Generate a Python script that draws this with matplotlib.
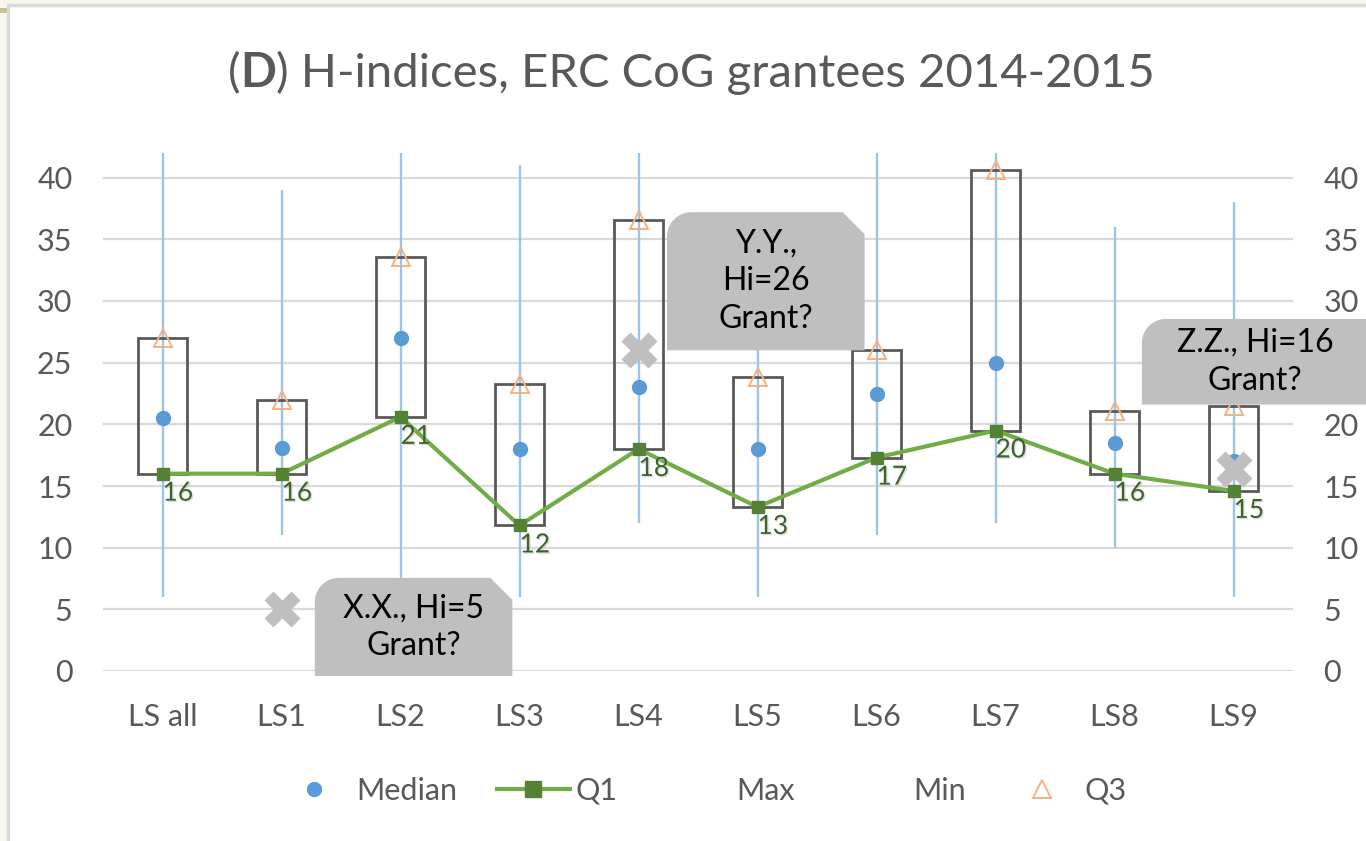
import matplotlib
matplotlib.use("Agg")
import matplotlib.pyplot as plt
import numpy as np
from matplotlib.lines import Line2D
from matplotlib.patches import Rectangle, PathPatch
from matplotlib.path import Path
import matplotlib.patheffects as pe

plt.rcParams['font.family'] = ['Lato', 'DejaVu Sans']

# Data
categories = ["LS all", "LS1", "LS2", "LS3", "LS4", "LS5", "LS6", "LS7", "LS8", "LS9"]
h_max = [45, 39, 45, 41, 45, 30, 45, 45, 36, 38]
h_min = [6, 11, 3, 6, 12, 6, 11, 12, 10, 6]
q1 = [16, 16, 20.6, 11.8, 18, 13.3, 17.3, 19.5, 16, 14.6]
q3 = [27, 22, 33.6, 23.3, 36.6, 23.8, 26, 40.6, 21.1, 21.5]
median = [20.5, 18.1, 27, 18, 23, 18, 22.5, 25, 18.5, 17]

# individual grantees marked with a cross
people = ["X.X.", "Y.Y.", "Z.Z."]
people_cat = [1, 4, 9]
people_hi = [5, 26, 16.4]
people_text = ["X.X., Hi=5\nGrant?", "Y.Y.,\nHi=26\nGrant?", "Z.Z., Hi=16\nGrant?"]

yticks = np.arange(0, 41, 5)
# the right-hand "25" sits under the Z.Z. callout
right_labels = ["" if t == 25 else str(t) for t in yticks]

GREY_TXT = "#595959"
W, H = 1366, 841

fig = plt.figure(figsize=(W / 100, H / 100), dpi=100, facecolor="#F8F6EE")

# white chart panel inside the window
fig.add_artist(Rectangle((8 / W, -0.01), 1.0, 1 - 5 / H + 0.01, transform=fig.transFigure,
                         facecolor="white", edgecolor="#D9D9D9", lw=2.5, zorder=-5))
fig.add_artist(Rectangle((0, 1 - 13 / H), 7 / W, 5 / H, transform=fig.transFigure,
                         facecolor="#CDBF94", edgecolor="none", zorder=-5))

ax = fig.add_axes([103 / W, 1 - 671 / H, 1190 / W, 518 / H])
ax.set_facecolor("none")
x = np.arange(len(categories))
ax.set_xlim(-0.5, len(categories) - 0.5)
ax.set_ylim(0, 42)

# grid and ticks
ax.set_yticks(yticks)
ax.yaxis.grid(True, color="#D9D9D9", lw=1.6, zorder=0)
ax.set_axisbelow(True)
for s in ax.spines.values():
    s.set_visible(False)
ax.set_xticks(x)
ax.set_xticklabels(categories)
ax.tick_params(axis="x", length=0, pad=23, labelsize=22, labelcolor=GREY_TXT)
ax.tick_params(axis="y", length=0, pad=22, labelsize=22, labelcolor=GREY_TXT)

ax_r = ax.twinx()
ax_r.patch.set_visible(False)
ax_r.set_ylim(ax.get_ylim())
ax_r.set_yticks(yticks)
ax_r.set_yticklabels(right_labels)
ax_r.tick_params(axis="y", length=0, pad=22, labelsize=22, labelcolor=GREY_TXT)
for s in ax_r.spines.values():
    s.set_visible(False)

# max-min lines
ax.vlines(x, h_min, h_max, color="#9DC3E6", lw=1.7, zorder=1)

# Q1-Q3 boxes
ax.bar(x, np.array(q3) - np.array(q1), bottom=q1, width=0.41, fill=False,
       edgecolor=GREY_TXT, lw=2.0, zorder=2)

# series
ax.plot(x, q1, color="#70AD47", lw=3, marker="s", ms=9, mfc="#548235",
        mec="#548235", zorder=3)
ax.plot(x, median, ls="none", marker="o", ms=10, color="#5B9BD5", zorder=3)
ax.plot(x, q3, ls="none", marker="^", ms=13, mfc="none", mec="#F4B183",
        mew=1.4, zorder=4)

for xi, v in zip(x, q1):
    ax.annotate(f"{v:.0f}", (xi, v), xytext=(0, -5), textcoords="offset points",
                ha="left", va="top", fontsize=19, color="#3B6428", zorder=5,
                path_effects=[pe.withSimplePatchShadow(offset=(1, -1), shadow_rgbFace="#bbbbbb",
                                                       alpha=0.5)])

# crosses
ax.plot(people_cat, people_hi, ls="none", marker="X", ms=26, color="#BFBFBF",
        mec="none", zorder=6, clip_on=False)

# callout boxes: (x0, x1, y0, y1, text centre x)
callouts = [(1.28, 2.94, -0.4, 7.55, 2.11),
            (4.24, 5.90, 26.0, 37.2, 5.07),
            (8.23, 10.3, 21.6, 28.55, 9.18)]

p0 = ax.transData.transform((0, 0))
p1 = ax.transData.transform((1, 1))
sx, sy = p1[0] - p0[0], p1[1] - p0[1]


def callout_path(x0, x1, y0, y1, r=24, snip=22):
    rx, ry = r / sx, r / sy
    nx, ny = snip / sx, snip / sy
    verts = [(x0, y0), (x0, y1 - ry)]
    for t in np.linspace(np.pi, np.pi / 2, 12):
        verts.append((x0 + rx + rx * np.cos(t), y1 - ry + ry * np.sin(t)))
    verts += [(x1 - nx, y1), (x1, y1 - ny), (x1, y0), (x0, y0)]
    codes = [Path.MOVETO] + [Path.LINETO] * (len(verts) - 2) + [Path.CLOSEPOLY]
    return Path(verts, codes)


for (x0, x1, y0, y1, tx), txt in zip(callouts, people_text):
    patch = PathPatch(callout_path(x0, x1, y0, y1), facecolor="#BFBFBF",
                      edgecolor="none", zorder=7, clip_on=False)
    ax.add_patch(patch)
    ax.text(tx, (y0 + y1) / 2, txt, ha="center", va="center", fontsize=23,
            color="black", linespacing=1.32, zorder=8, clip_on=False)

# title with bold letter
tsize = 34
t1 = fig.text(228 / W, 1 - 95 / H, "(", fontsize=tsize, color=GREY_TXT, va="bottom")
t2 = ax.annotate("D", xy=(1, 0), xycoords=t1, va="bottom", ha="left",
                 fontsize=tsize, color=GREY_TXT, fontweight="bold", annotation_clip=False)
ax.annotate(") H-indices, ERC CoG grantees 2014-2015", xy=(1, 0), xycoords=t2,
            va="bottom", ha="left", fontsize=tsize, color=GREY_TXT, annotation_clip=False)

# legend
handles = [
    Line2D([], [], ls="none", marker="o", ms=10, color="#5B9BD5"),
    Line2D([], [], color="#70AD47", lw=3, marker="s", ms=12, mfc="#548235", mec="#548235"),
    Line2D([], [], ls="none"),
    Line2D([], [], ls="none"),
    Line2D([], [], ls="none", marker="^", ms=13, mfc="none", mec="#F4B183", mew=1.4),
]
fig.legend(handles, ["Median", "Q1", "Max", "Min", "Q3"], loc="center",
           bbox_to_anchor=(702 / W, 1 - 791 / H), ncol=5, frameon=False,
           fontsize=22, labelcolor=GREY_TXT, handlelength=2.4, handletextpad=0.2,
           columnspacing=1.28)

fig.savefig("out.png", dpi=100, facecolor=fig.get_facecolor())
